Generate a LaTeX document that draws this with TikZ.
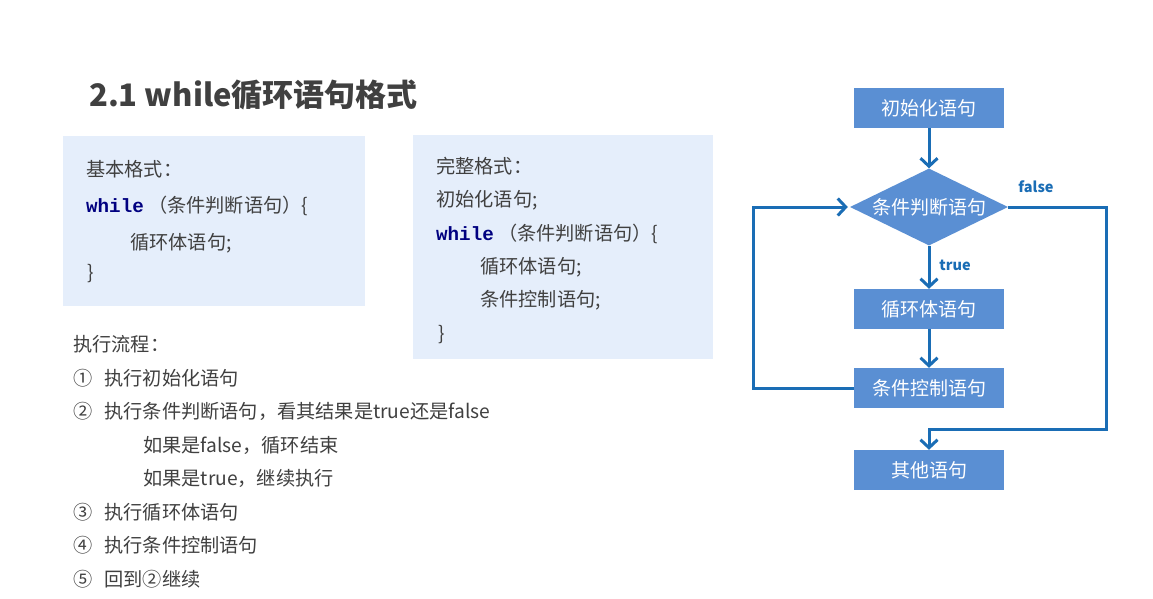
\documentclass[tikz,border=0pt]{standalone}
\usepackage{fontspec}
\setmainfont{Noto Sans CJK SC}
\newfontfamily\codefont{Liberation Mono}
\usetikzlibrary{arrows.meta,shapes.geometric}
\definecolor{txt}{HTML}{404040}
\definecolor{panel}{HTML}{E5EEFB}
\definecolor{flow}{HTML}{5A8FD3}
\definecolor{line}{HTML}{1A6DB5}
\definecolor{kw}{HTML}{000080}
\newcommand{\kwd}[1]{{\codefont\bfseries\color{kw}#1}}
\tikzset{
  body/.style={anchor=base west, inner sep=0pt, text=txt, font=\fontsize{19.2}{21}\selectfont},
  panelbox/.style={fill=panel, draw=none},
  flowbox/.style={rectangle, fill=flow, draw=none, minimum width=150, minimum height=40, inner sep=0pt, text=white, font=\fontsize{19}{21}\selectfont},
  flowdia/.style={diamond, fill=flow, draw=none, minimum width=158, minimum height=77, aspect=2.05, inner sep=0pt, text=white, font=\fontsize{19}{21}\selectfont},
  conn/.style={draw=line, line width=3, -{Straight Barb[length=8,width=17,line width=3]}},
  lbl/.style={text=line, font=\fontsize{14.5}{16}\selectfont\bfseries, inner sep=0pt}
}
\begin{document}
\begin{tikzpicture}[x=1pt,y=-1pt]
\useasboundingbox (0,0) rectangle (1153,598);
\fill[white] (0,0) rectangle (1153,598);
% title
\node[anchor=base west, inner sep=0pt, text=txt, font=\fontsize{31}{35}\selectfont\bfseries] (title) at (89,106) {2.1 while循环语句格式};
% panels
\node[panelbox, anchor=north west, minimum width=302, minimum height=170, inner sep=0pt] (p1) at (63,136) {};
\node[panelbox, anchor=north west, minimum width=300, minimum height=224, inner sep=0pt] (p2) at (413,135) {};
% panel 1 text
\node[body] (a1) at (86,176) {基本格式：};
\node[body] (a2) at (86,212) {\kwd{while} （条件判断语句）\{};
\node[body] (a3) at (130,249) {循环体语句;};
\node[body] (a4) at (87,279) {\}};
% panel 2 text
\node[body] (b1) at (436,173) {完整格式：};
\node[body] (b2) at (436,206) {初始化语句;};
\node[body] (b3) at (436,240) {\kwd{while} （条件判断语句）\{};
\node[body] (b4) at (480,273) {循环体语句;};
\node[body] (b5) at (480,306) {条件控制语句;};
\node[body] (b6) at (438,340) {\}};
% list
\node[body] (c0) at (73,351) {执行流程：};
\node[body] (c1) at (73,385) {①\hspace{12pt}执行初始化语句};
\node[body] (c2) at (73,418) {②\hspace{12pt}执行条件判断语句，看其结果是true还是false};
\node[body] (c3) at (143,452) {如果是false，循环结束};
\node[body] (c4) at (143,485) {如果是true，继续执行};
\node[body] (c5) at (73,519) {③\hspace{12pt}执行循环体语句};
\node[body] (c6) at (73,552) {④\hspace{12pt}执行条件控制语句};
\node[body] (c7) at (73,586) {⑤\hspace{12pt}回到②继续};
% flowchart
\node[flowbox] (init) at (929,108) {初始化语句};
\node[flowdia] (cond) at (929,207) {条件判断语句};
\node[flowbox] (loop) at (929,309) {循环体语句};
\node[flowbox] (ctrl) at (929,388) {条件控制语句};
\node[flowbox] (other) at (929,470) {其他语句};
\coordinate (lt) at (753,388);
\coordinate (lb) at (753,207);
\coordinate (rt) at (1106,207);
\coordinate (rb) at (1106,429);
\coordinate (mb) at (929,429);
\draw[conn] (init.south) -- (cond.north);
\draw[conn] (cond.south) -- (loop.north);
\draw[conn] (loop.south) -- (ctrl.north);
\draw[conn] (ctrl.west) -- (lt) -- (lb) -- ([xshift=-2]cond.west);
\draw[conn] (cond.east) -- (rt) -- (rb) -- (mb) -- (other.north);
\node[lbl] (f) at (1036,187) {false};
\node[lbl] (t) at (955,265) {true};
\end{tikzpicture}
\end{document}
